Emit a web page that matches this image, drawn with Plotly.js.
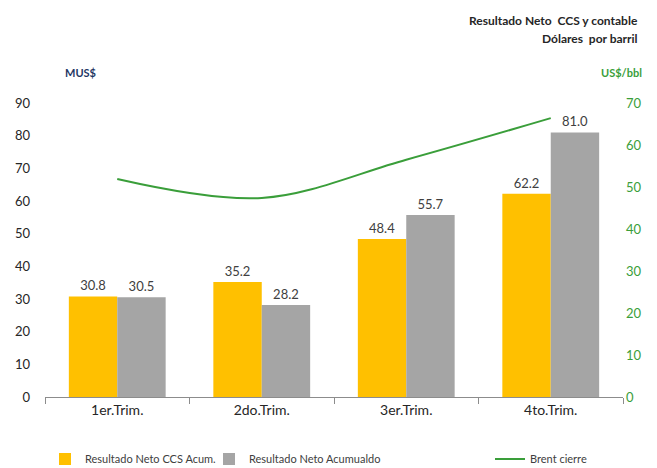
<!DOCTYPE html>
<html><head><meta charset="utf-8">
<script src="https://cdn.plot.ly/plotly-3.0.1.min.js"></script>
<style>html,body{margin:0;padding:0;background:#fff}#c{width:657px;height:468px}</style>
</head><body><div id="c"></div>
<script>
const categories = ["1er.Trim.", "2do.Trim.", "3er.Trim.", "4to.Trim."];
const netoCCS = [30.8, 35.2, 48.4, 62.2];
const netoAcum = [30.5, 28.2, 55.7, 81.0];
const brent = [51.9, 47.4, 56.5, 66.4];
const leftTicks = [0, 10, 20, 30, 40, 50, 60, 70, 80, 90];
const rightTicks = [0, 10, 20, 30, 40, 50, 60, 70];

const F = "Lato, 'Open Sans', sans-serif";
const traces = [
  {type: "bar", name: "Resultado Neto CCS Acum.", x: categories, y: netoCCS,
   marker: {color: "#FFC000"}, texttemplate: "%{y:.1f}", textposition: "outside",
   textfont: {family: F, size: 13, color: "#404040"}, cliponaxis: false, hoverinfo: "skip"},
  {type: "bar", name: "Resultado Neto Acumualdo", x: categories, y: netoAcum, legend: "legend3",
   marker: {color: "#A5A5A5"}, texttemplate: "%{y:.1f}", textposition: "outside",
   textfont: {family: F, size: 13, color: "#404040"}, cliponaxis: false, hoverinfo: "skip"},
  {type: "scatter", mode: "lines", name: "Brent cierre", x: categories, y: brent, yaxis: "y2",
   legend: "legend2",
   line: {color: "#3A9E3A", width: 2, shape: "spline", smoothing: 1}, hoverinfo: "skip"}
];
const legFont = {family: F, size: 11, color: "#404040"};
const legY = -(459 - 397) / 294;
const legBase = {orientation: "h", xanchor: "left", y: legY, yanchor: "middle",
  font: legFont, itemwidth: 30, bgcolor: "rgba(0,0,0,0)"};
const layout = {
  width: 657, height: 468,
  margin: {l: 45, r: 34, t: 103, b: 71, autoexpand: false},
  paper_bgcolor: "#fff", plot_bgcolor: "#fff",
  font: {family: F, color: "#333"},
  barmode: "group", bargap: 0.33, bargroupgap: 0,
  showlegend: true,
  legend: Object.assign({}, legBase, {x: 0.0}),
  legend3: Object.assign({}, legBase, {x: (209-45)/578}),
  legend2: Object.assign({}, legBase, {x: (490-45)/578}),
  xaxis: {type: "category", showline: true, linecolor: "#8c8c8c", linewidth: 1,
    ticks: "outside", tickson: "boundaries", ticklen: 6, tickcolor: "#8c8c8c",
    tickfont: {family: F, size: 14, color: "#262626"}, showgrid: false, zeroline: false,
    fixedrange: true},
  yaxis: {range: [0, 90], tickvals: leftTicks, showgrid: false, zeroline: false, showline: false,
    tickfont: {family: F, size: 13, color: "#262626"}, ticklabelstandoff: 14, fixedrange: true},
  yaxis2: {range: [0, 70], tickvals: rightTicks, overlaying: "y", side: "right",
    showgrid: false, zeroline: false, showline: false,
    tickfont: {family: F, size: 13, color: "#3A9E3A"}, ticklabelstandoff: 2, fixedrange: true},
  annotations: [
    {text: "<b>Resultado Neto  CCS y contable</b>", xref: "paper", yref: "paper",
     x: 640/578 - 45/578, xanchor: "right", y: 1 + (103-20)/294, yanchor: "middle",
     showarrow: false, font: {family: F, size: 12, color: "#262626"}},
    {text: "<b>Dólares  por barril</b>", xref: "paper", yref: "paper",
     x: 640/578 - 45/578, xanchor: "right", y: 1 + (103-38)/294, yanchor: "middle",
     showarrow: false, font: {family: F, size: 12, color: "#262626"}},
    {text: "<b>MUS$</b>", xref: "paper", yref: "paper",
     x: (80-45)/578, xanchor: "center", y: 1 + (103-72)/294, yanchor: "middle",
     showarrow: false, font: {family: F, size: 11, color: "#1F3864"}},
    {text: "<b>US$/bbl</b>", xref: "paper", yref: "paper",
     x: (621-45)/578, xanchor: "center", y: 1 + (103-72)/294, yanchor: "middle",
     showarrow: false, font: {family: F, size: 11, color: "#3A9E3A"}}
  ]
};
Plotly.newPlot("c", traces, layout, {displayModeBar: false, staticPlot: true});
</script></body></html>
